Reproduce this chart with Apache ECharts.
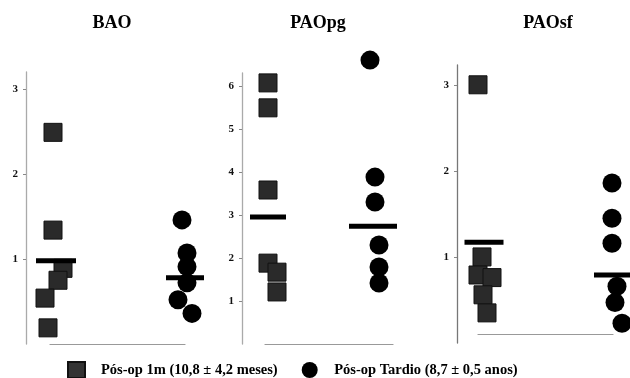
<!DOCTYPE html>
<html><head><meta charset="utf-8">
<script src="https://cdn.jsdelivr.net/npm/echarts@6/dist/echarts.min.js"></script>
<style>html,body{margin:0;padding:0;background:#fff}#c{width:630px;height:378px}</style>
</head><body><div id="c"></div>
<script>
// ---- data ----
const panelTitles = ['BAO', 'PAOpg', 'PAOsf'];
const groups = ['Pós-op 1m (10,8 ± 4,2 meses)', 'Pós-op Tardio (8,7 ± 0,5 anos)'];
const baoSquares = [2.49, 1.34, 0.89, 0.75, 0.54, 0.19];
const baoCircles = [1.46, 1.07, 0.91, 0.72, 0.52, 0.36];
const baoMeans = [0.98, 0.78];
const pgSquares = [6.07, 5.49, 3.58, 1.88, 1.67, 1.21];
const pgCircles = [6.6, 3.88, 3.3, 2.3, 1.79, 1.42];
const pgMeans = [2.95, 2.74];
const sfSquares = [3.0, 1.0, 0.79, 0.76, 0.56, 0.35];
const sfCircles = [1.86, 1.45, 1.16, 0.66, 0.47, 0.23];
const sfMeans = [1.17, 0.79];
const baoTicks = [1, 2, 3];
const pgTicks = [1, 2, 3, 4, 5, 6];
const sfTicks = [1, 2, 3];

// ---- layout / style ----
const panels = [
  { sq: baoSquares, ci: baoCircles, mean: baoMeans, ticks: baoTicks, max: 3.2,
    grid: { left: 50, width: 135, top: 72, bottom: 34 }, yOff: 24, xOff: 0,
    sqJit: [3, 3, 13, 8, -5, -2], ciJit: [-3, 2, 2, 2, -7, 7],
    meanJit: [6, 0], meanW: [40, 38], axisColor: '#aaa', titleX: 112 },
  { sq: pgSquares, ci: pgCircles, mean: pgMeans, ticks: pgTicks, max: 6.3,
    grid: { left: 265, width: 128, top: 73, bottom: 34 }, yOff: 23, xOff: 0,
    sqJit: [3, 3, 3, 3, 12, 12], ciJit: [-23, -18, -18, -14, -14, -14],
    meanJit: [3, -20], meanW: [36, 48], axisColor: '#aaa', titleX: 318 },
  { sq: sfSquares, ci: sfCircles, mean: sfMeans, ticks: sfTicks, max: 3.23,
    grid: { left: 478, width: 135, top: 65, bottom: 35 }, yOff: 21, xOff: -9,
    sqJit: [0, 4, 0, 14, 5, 9], ciJit: [-1, -1, -1, 4, 2, 9],
    meanJit: [6, -1], meanW: [39, 36], axisColor: '#777', titleX: 548 }
];
const serif = "'Liberation Serif', 'DejaVu Serif', serif";

const grids = [], xAxes = [], yAxes = [], series = [], graphics = [];
panels.forEach((p, i) => {
  grids.push(p.grid);
  xAxes.push({
    gridIndex: i, type: 'category', data: groups, boundaryGap: false, offset: p.xOff,
    axisLine: { lineStyle: { color: '#999', width: 1.2 } },
    axisTick: { show: false }, axisLabel: { show: false }, splitLine: { show: false }
  });
  yAxes.push({
    gridIndex: i, type: 'value', min: 0, max: p.max, offset: p.yOff,
    axisLine: { show: true, lineStyle: { color: p.axisColor, width: 1.3 } },
    axisTick: { show: true, length: 3, customValues: p.ticks, lineStyle: { color: '#888' } },
    axisLabel: { customValues: p.ticks, margin: 8, color: '#111',
      fontFamily: serif, fontWeight: 'bold', fontSize: 11 },
    splitLine: { show: false }
  });
  series.push({
    name: groups[0], type: 'scatter', xAxisIndex: i, yAxisIndex: i, clip: false,
    symbol: 'rect', symbolSize: 18,
    itemStyle: { color: '#2a2a2a', borderColor: '#111', borderWidth: 1, opacity: 1 },
    data: p.sq.map((v, k) => ({ value: [0, v], symbolOffset: [p.sqJit[k], 0] })),
    z: 3
  });
  series.push({
    name: groups[1], type: 'scatter', xAxisIndex: i, yAxisIndex: i, clip: false,
    symbol: 'circle', symbolSize: 19,
    itemStyle: { color: '#000', opacity: 1 },
    data: p.ci.map((v, k) => ({ value: [1, v], symbolOffset: [p.ciJit[k], 0] })),
    z: 3
  });
  series.push({
    name: 'mean' + i, type: 'scatter', xAxisIndex: i, yAxisIndex: i, clip: false,
    symbol: 'rect',
    itemStyle: { color: '#000', opacity: 1 },
    data: p.mean.map((v, k) => ({ value: [k, v], symbolSize: [p.meanW[k], 5], symbolOffset: [p.meanJit[k], 0] })),
    z: 4, silent: true
  });
  graphics.push({
    type: 'text', x: p.titleX, y: 23,
    style: { text: panelTitles[i], textAlign: 'center', textVerticalAlign: 'middle',
      font: "bold 18px " + serif, fill: '#000' }
  });
});

const chart = echarts.init(document.getElementById('c'), null, { renderer: 'canvas' });
chart.setOption({
  animation: false,
  backgroundColor: '#fff',
  grid: grids, xAxis: xAxes, yAxis: yAxes, series: series,
  graphic: graphics,
  legend: {
    left: 67, top: 361, padding: 0, itemWidth: 17, itemHeight: 16, itemGap: 24,
    data: [
      { name: groups[0], icon: 'rect', itemStyle: { color: '#333', opacity: 1 } },
      { name: groups[1], icon: 'circle', itemStyle: { color: '#000', opacity: 1 } }
    ],
    textStyle: { fontFamily: serif, fontWeight: 'bold', fontSize: 14.5, color: '#000', padding: [0, 0, 0, 11] }
  }
});
</script>
</body></html>
